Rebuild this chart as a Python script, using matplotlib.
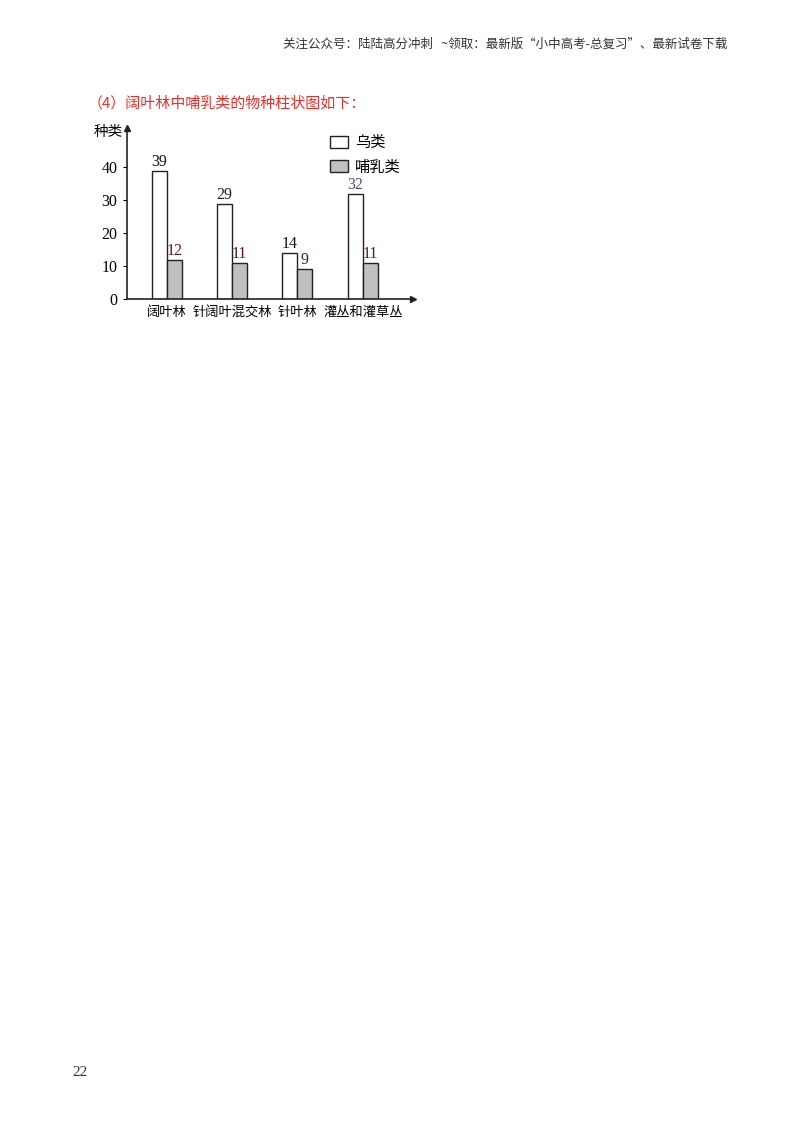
import numpy as np
import matplotlib
matplotlib.use("Agg")
import matplotlib.pyplot as plt
from matplotlib.patches import Patch

plt.rcParams['font.family'] = ['Noto Sans CJK SC', 'DejaVu Sans']

# data
forests = ['阔叶林', '针阔叶混交林', '针叶林', '灌丛和灌草丛']
birds = [39, 29, 14, 32]
mammals = [12, 11, 9, 11]
bird_label_colors = ['#111111', '#222222', '#111111', '#4a5068']
yticks = [0, 10, 20, 30, 40]

W, H = 800, 1132
fig = plt.figure(figsize=(W / 100, H / 100), dpi=100)

# header and title
fig.text(727 / W, 1 - 44 / H, '关注公众号：陆陆高分冲刺   ~领取：最新版“小中高考-总复习”、最新试卷下载',
         ha='right', va='center', fontsize=9, color='#333333')
fig.text(88 / W, 1 - 103 / H, '（4）阔叶林中哺乳类的物种柱状图如下：',
         ha='left', va='center', fontsize=10.8, color='#e8302a')
fig.text(80 / W, 1 - 1072 / H, '22', ha='center', va='center', fontsize=11,
         family='Liberation Serif', color='#333333')

# axes: origin at (127, 299) px, top at 128 px, right end at 413 px
left, bottom = 127 / W, 1 - 299 / H
ax = fig.add_axes([left, bottom, (413 - 127) / W, (299 - 128) / H])

x = np.arange(len(forests))
bw = 0.23
ax.bar(x - bw / 2, birds, bw, color='white', edgecolor='#222222', linewidth=1.0, label='乌类')
ax.bar(x + bw / 2, mammals, bw, color='#c0c0c0', edgecolor='#222222', linewidth=1.0, label='哺乳类')

for i in range(len(forests)):
    ax.text(x[i] - bw / 2, birds[i] + 0.3, str(birds[i]), ha='center', va='bottom',
            fontsize=11.5, family='Liberation Serif', color=bird_label_colors[i])
    ax.text(x[i] + bw / 2, mammals[i] + 0.3, str(mammals[i]), ha='center', va='bottom',
            fontsize=11.5, family='Liberation Serif', color='#5a1435')

ax.set_xlim(-0.61, 3.77)
ax.set_ylim(0, 52)
ax.set_yticks(yticks)
ax.set_yticklabels([str(v) for v in yticks], family='Liberation Serif', fontsize=11.5)
ax.set_xticks(x)
ax.set_xticklabels(forests, fontsize=9.5)
ax.tick_params(axis='x', length=0, pad=5)
ax.tick_params(axis='y', length=3, direction='out', pad=4, width=0.8)

for s in ['top', 'right']:
    ax.spines[s].set_visible(False)
for s in ['left', 'bottom']:
    ax.spines[s].set_linewidth(1.2)
    ax.spines[s].set_color('#222222')

# arrow heads at the axis ends
ax.plot(1, 0, '>', color='#222222', markersize=5, transform=ax.transAxes, clip_on=False)
ax.plot(0, 1, '^', color='#222222', markersize=5, transform=ax.transAxes, clip_on=False)

fig.text(108 / W, 1 - 132 / H, '种类', ha='center', va='center', fontsize=10.5)

handles = [Patch(facecolor='white', edgecolor='#222222', label='乌类'),
           Patch(facecolor='#c0c0c0', edgecolor='#222222', label='哺乳类')]
ax.legend(handles=handles, loc='upper left', bbox_to_anchor=((330 - 127) / (413 - 127), (299 - 134) / (299 - 128)),
          frameon=False, fontsize=11, handlelength=1.2, handleheight=0.85,
          handletextpad=0.45, labelspacing=0.5, borderpad=0, borderaxespad=0)

fig.savefig('out.png', dpi=100)
